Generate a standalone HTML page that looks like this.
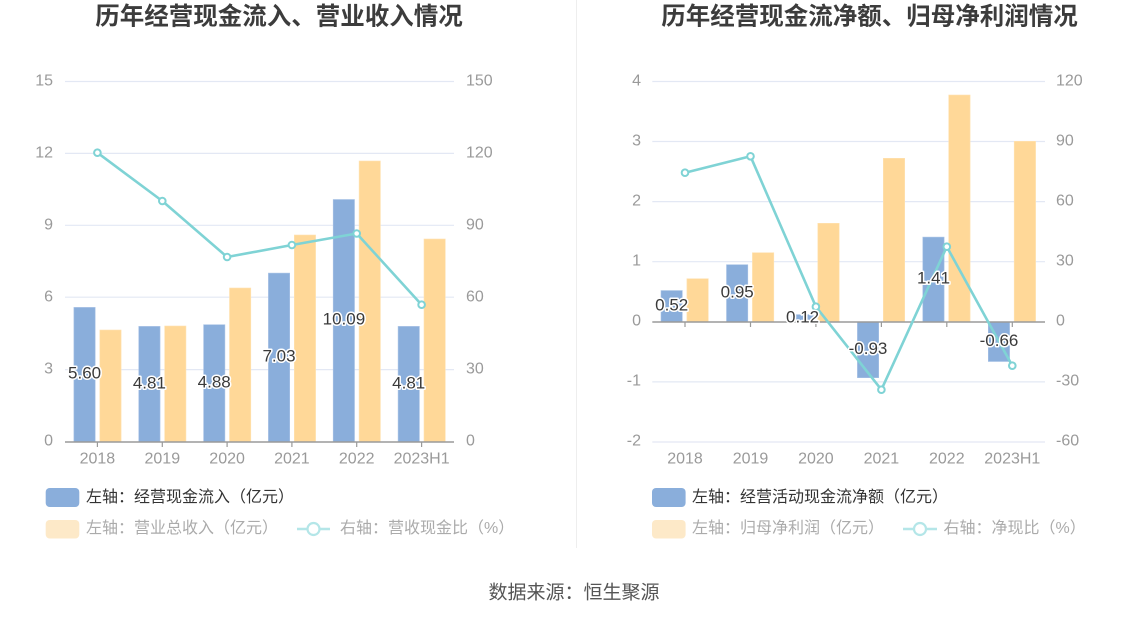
<!DOCTYPE html>
<html>
<head>
<meta charset="utf-8">
<style>
html,body{margin:0;padding:0;background:#fff;}
svg{display:block;}
text{font-family:"Liberation Sans","Noto Sans CJK SC",sans-serif;}
.tk{font-size:16px;fill:#9a9a9a;dominant-baseline:central;}
.dl{font-size:17px;fill:#3a3a3a;stroke:#fff;stroke-width:3px;paint-order:stroke;stroke-linejoin:round;text-anchor:middle;dominant-baseline:central;}
.ttl{font-size:24.5px;font-weight:bold;fill:#3c3c3c;text-anchor:middle;dominant-baseline:central;}
.lg{font-size:16px;dominant-baseline:central;}
</style>
</head>
<body>
<svg width="1148" height="619" viewBox="0 0 1148 619" xmlns="http://www.w3.org/2000/svg">
<rect x="0" y="0" width="1148" height="619" fill="#fff"/>
<line x1="576.5" y1="0" x2="576.5" y2="548" stroke="#eeeeee" stroke-width="1"/>

<!-- ================= LEFT CHART ================= -->
<text class="ttl" x="279" y="17">历年经营现金流入、营业收入情况</text>

<g stroke="#e3e8f4" stroke-width="1.2">
<line x1="65" y1="81.5" x2="454" y2="81.5"/>
<line x1="65" y1="153.4" x2="454" y2="153.4"/>
<line x1="65" y1="225.3" x2="454" y2="225.3"/>
<line x1="65" y1="297.2" x2="454" y2="297.2"/>
<line x1="65" y1="369.6" x2="454" y2="369.6"/>
</g>

<g class="tk" text-anchor="end">
<text x="53" y="81">15</text>
<text x="53" y="153">12</text>
<text x="53" y="225">9</text>
<text x="53" y="297">6</text>
<text x="53" y="369">3</text>
<text x="53" y="441">0</text>
</g>
<g class="tk" text-anchor="start">
<text x="466" y="81">150</text>
<text x="466" y="153">120</text>
<text x="466" y="225">90</text>
<text x="466" y="297">60</text>
<text x="466" y="369">30</text>
<text x="466" y="441">0</text>
</g>

<g fill="#8aaedb" stroke="#a9c3e6" stroke-width="0.6">
<rect x="73.9" y="307.4" width="21.3" height="134.6"/>
<rect x="138.75" y="326.4" width="21.3" height="115.6"/>
<rect x="203.6" y="324.7" width="21.3" height="117.3"/>
<rect x="268.4" y="273.1" width="21.3" height="168.9"/>
<rect x="333.2" y="199.5" width="21.3" height="242.5"/>
<rect x="398.1" y="326.4" width="21.3" height="115.6"/>
</g>
<g fill="#ffd898" stroke="#ffe3b3" stroke-width="0.6">
<rect x="99.8" y="330" width="21.3" height="112"/>
<rect x="164.65" y="326" width="21.3" height="116"/>
<rect x="229.5" y="288" width="21.3" height="154"/>
<rect x="294.3" y="235" width="21.3" height="207"/>
<rect x="359.1" y="161" width="21.3" height="281"/>
<rect x="424" y="239" width="21.3" height="203"/>
</g>

<line x1="65" y1="442" x2="454" y2="442" stroke="#9a9a9a" stroke-width="1.4"/>
<g stroke="#9a9a9a" stroke-width="1.2">
<line x1="97.4" y1="442" x2="97.4" y2="447"/>
<line x1="162.3" y1="442" x2="162.3" y2="447"/>
<line x1="227.1" y1="442" x2="227.1" y2="447"/>
<line x1="291.9" y1="442" x2="291.9" y2="447"/>
<line x1="356.7" y1="442" x2="356.7" y2="447"/>
<line x1="421.6" y1="442" x2="421.6" y2="447"/>
</g>
<g class="tk" text-anchor="middle">
<text x="97.4" y="459">2018</text>
<text x="162.3" y="459">2019</text>
<text x="227.1" y="459">2020</text>
<text x="291.9" y="459">2021</text>
<text x="356.7" y="459">2022</text>
<text x="421.6" y="459">2023H1</text>
</g>

<polyline points="97.4,152.7 162.3,201 227.1,257 291.9,245 356.7,233.5 421.6,304.7" fill="none" stroke="#7fd3d5" stroke-width="2.6" stroke-linejoin="round"/>
<g fill="#fff" stroke="#7fd3d5" stroke-width="2">
<circle cx="97.4" cy="152.7" r="3.3"/>
<circle cx="162.3" cy="201" r="3.3"/>
<circle cx="227.1" cy="257" r="3.3"/>
<circle cx="291.9" cy="245" r="3.3"/>
<circle cx="356.7" cy="233.5" r="3.3"/>
<circle cx="421.6" cy="304.7" r="3.3"/>
</g>

<text class="dl" x="84.6" y="373">5.60</text>
<text class="dl" x="149.4" y="383">4.81</text>
<text class="dl" x="214.2" y="382">4.88</text>
<text class="dl" x="279" y="356">7.03</text>
<text class="dl" x="343.9" y="319">10.09</text>
<text class="dl" x="408.7" y="383">4.81</text>

<rect x="45.7" y="488" width="33.6" height="19" rx="4" fill="#8aaedb"/>
<text class="lg" x="86" y="497.5" fill="#333">左轴：经营现金流入（亿元）</text>
<rect x="45.7" y="520" width="33.6" height="18.5" rx="4" fill="#fde9c8"/>
<text class="lg" x="86" y="528.5" fill="#ababab">左轴：营业总收入（亿元）</text>
<line x1="297" y1="529" x2="330" y2="529" stroke="#b4e6e8" stroke-width="2.5"/>
<circle cx="313.5" cy="529" r="6" fill="#fff" stroke="#b4e6e8" stroke-width="2.2"/>
<text class="lg" x="340" y="528.5" fill="#ababab">右轴：营收现金比（%）</text>

<!-- ================= RIGHT CHART ================= -->
<text class="ttl" x="869.5" y="17">历年经营现金流净额、归母净利润情况</text>

<g stroke="#e3e8f4" stroke-width="1.2">
<line x1="652.3" y1="81.5" x2="1045" y2="81.5"/>
<line x1="652.3" y1="141.5" x2="1045" y2="141.5"/>
<line x1="652.3" y1="201.6" x2="1045" y2="201.6"/>
<line x1="652.3" y1="261.7" x2="1045" y2="261.7"/>
<line x1="652.3" y1="381.9" x2="1045" y2="381.9"/>
<line x1="652.3" y1="442" x2="1045" y2="442"/>
</g>
<g class="tk" text-anchor="end">
<text x="641" y="81">4</text>
<text x="641" y="141">3</text>
<text x="641" y="201">2</text>
<text x="641" y="261">1</text>
<text x="641" y="321">0</text>
<text x="641" y="381">-1</text>
<text x="641" y="441">-2</text>
</g>
<g class="tk" text-anchor="start">
<text x="1056" y="81">120</text>
<text x="1056" y="141">90</text>
<text x="1056" y="201">60</text>
<text x="1056" y="261">30</text>
<text x="1056" y="321">0</text>
<text x="1056" y="381">-30</text>
<text x="1056" y="441">-60</text>
</g>

<g fill="#8aaedb" stroke="#a9c3e6" stroke-width="0.6">
<rect x="661" y="290.55" width="21.3" height="31.25"/>
<rect x="726.5" y="264.7" width="21.3" height="57.1"/>
<rect x="791.9" y="314.6" width="21.3" height="7.2"/>
<rect x="857.4" y="321.8" width="21.3" height="55.9"/>
<rect x="922.8" y="237.1" width="21.3" height="84.7"/>
<rect x="988.3" y="321.8" width="21.3" height="39.7"/>
</g>
<g fill="#ffd898" stroke="#ffe3b3" stroke-width="0.6">
<rect x="686.9" y="278.7" width="21.4" height="43.1"/>
<rect x="752.4" y="252.7" width="21.4" height="69.1"/>
<rect x="817.8" y="223.3" width="21.4" height="98.5"/>
<rect x="883.3" y="158.3" width="21.4" height="163.5"/>
<rect x="948.7" y="95" width="21.4" height="226.8"/>
<rect x="1014.2" y="141.3" width="21.4" height="180.5"/>
</g>

<line x1="652.3" y1="322" x2="1045" y2="322" stroke="#9a9a9a" stroke-width="1.4"/>
<g stroke="#9a9a9a" stroke-width="1.2">
<line x1="685" y1="322" x2="685" y2="327"/>
<line x1="750.5" y1="322" x2="750.5" y2="327"/>
<line x1="815.9" y1="322" x2="815.9" y2="327"/>
<line x1="881.4" y1="322" x2="881.4" y2="327"/>
<line x1="946.8" y1="322" x2="946.8" y2="327"/>
<line x1="1012.3" y1="322" x2="1012.3" y2="327"/>
</g>
<g class="tk" text-anchor="middle">
<text x="685" y="459">2018</text>
<text x="750.5" y="459">2019</text>
<text x="815.9" y="459">2020</text>
<text x="881.4" y="459">2021</text>
<text x="946.8" y="459">2022</text>
<text x="1012.3" y="459">2023H1</text>
</g>

<polyline points="685,172.7 750.5,156.3 815.9,306.7 881.4,389.7 946.8,246.7 1012.3,365.7" fill="none" stroke="#7fd3d5" stroke-width="2.6" stroke-linejoin="round"/>
<g fill="#fff" stroke="#7fd3d5" stroke-width="2">
<circle cx="685" cy="172.7" r="3.3"/>
<circle cx="750.5" cy="156.3" r="3.3"/>
<circle cx="815.9" cy="306.7" r="3.3"/>
<circle cx="881.4" cy="389.7" r="3.3"/>
<circle cx="946.8" cy="246.7" r="3.3"/>
<circle cx="1012.3" cy="365.7" r="3.3"/>
</g>

<text class="dl" x="671.7" y="305">0.52</text>
<text class="dl" x="737.2" y="292">0.95</text>
<text class="dl" x="802.6" y="317">0.12</text>
<text class="dl" x="868" y="348.5">-0.93</text>
<text class="dl" x="933.5" y="278">1.41</text>
<text class="dl" x="999" y="340.5">-0.66</text>

<rect x="652" y="488" width="33.6" height="19" rx="4" fill="#8aaedb"/>
<text class="lg" x="692" y="497.5" fill="#333">左轴：经营活动现金流净额（亿元）</text>
<rect x="652" y="520" width="33.6" height="18.5" rx="4" fill="#fde9c8"/>
<text class="lg" x="692" y="528.5" fill="#ababab">左轴：归母净利润（亿元）</text>
<line x1="903" y1="529" x2="937" y2="529" stroke="#b4e6e8" stroke-width="2.5"/>
<circle cx="920" cy="529" r="6" fill="#fff" stroke="#b4e6e8" stroke-width="2.2"/>
<text class="lg" x="943.5" y="528.5" fill="#ababab">右轴：净现比（%）</text>

<text x="574" y="593" font-size="19" fill="#555" text-anchor="middle" dominant-baseline="central">数据来源：恒生聚源</text>
</svg>
</body>
</html>
